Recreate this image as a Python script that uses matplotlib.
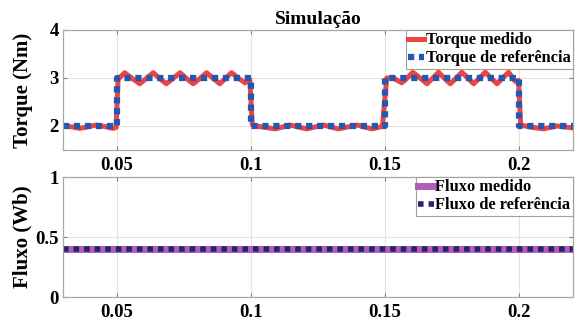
import matplotlib
matplotlib.use("Agg")
import matplotlib.pyplot as plt

# ---------------- data ----------------
t_ref = [0.03, 0.05, 0.05, 0.10, 0.10, 0.15, 0.15, 0.20, 0.20, 0.22]
torque_ref = [2, 2, 3, 3, 2, 2, 3, 3, 2, 2]

t_meas = [0.0300, 0.0335, 0.0362, 0.0390, 0.0424, 0.0455, 0.0485, 0.0498,
          0.0505, 0.0530, 0.0558, 0.0586, 0.0610, 0.0636, 0.0660, 0.0685,
          0.0710, 0.0736, 0.0760, 0.0785, 0.0810, 0.0835, 0.0860, 0.0884,
          0.0905, 0.0928, 0.0953, 0.0978, 0.0996,
          0.1005, 0.1030, 0.1090, 0.1146, 0.1208, 0.1270, 0.1325, 0.1396,
          0.1451, 0.1490,
          0.1506, 0.1530, 0.1562, 0.1583, 0.1603, 0.1630, 0.1656, 0.1678,
          0.1699, 0.1720, 0.1743, 0.1765, 0.1786, 0.1808, 0.1830, 0.1852,
          0.1873, 0.1895, 0.1917, 0.1938, 0.1960, 0.1985, 0.1997,
          0.2005, 0.2040, 0.2090, 0.2140, 0.2200]
torque_meas = [2.00, 1.98, 1.95, 1.98, 2.02, 1.99, 1.95, 1.97,
               2.97, 3.11, 2.99, 2.88, 2.99, 3.11, 2.99, 2.88,
               2.99, 3.11, 2.99, 2.88, 2.99, 3.11, 2.99, 2.88,
               2.99, 3.11, 3.00, 2.90, 2.97,
               2.03, 1.99, 1.94, 2.02, 1.94, 2.02, 1.94, 2.02,
               1.94, 1.99,
               3.00, 3.00, 2.90, 3.00, 3.12, 3.00, 2.88, 3.00,
               3.12, 3.00, 2.88, 3.00, 3.12, 3.00, 2.88, 3.00,
               3.12, 3.00, 2.88, 3.00, 3.12, 2.93, 2.95,
               2.02, 1.98, 1.94, 2.00, 1.96]

t_flux = [0.03, 0.22]
flux_meas = [0.40, 0.40]
flux_ref = [0.40, 0.40]

xticks = [0.05, 0.1, 0.15, 0.2]
xticklabels = ["0.05", "0.1", "0.15", "0.2"]
yticks_top = [2, 3, 4]
yticks_bot = [0, 0.5, 1]
yticklabels_bot = ["0", "0.5", "1"]

# ---------------- figure ----------------
plt.rcParams['font.family'] = ['Liberation Serif', 'DejaVu Serif']
plt.rcParams['font.weight'] = 'bold'

W, H = 579, 320
fig = plt.figure(figsize=(W / 100, H / 100), dpi=100)

def px_axes(l, r, t, b):
    return fig.add_axes([l / W, 1 - b / H, (r - l) / W, (b - t) / H])

ax1 = px_axes(63, 573, 30, 150)
ax2 = px_axes(63, 573, 177, 297)

red = '#f03a32'
blue = '#2257b3'
purple = '#b05cb8'
navy = '#25256b'

def style(ax):
    ax.set_xlim(0.03, 0.22)
    ax.set_xticks(xticks)
    ax.set_xticklabels(xticklabels)
    ax.grid(True, color='#e3e3e3', linewidth=0.8)
    ax.set_axisbelow(True)
    for s in ax.spines.values():
        s.set_color('#a8a8a8')
        s.set_linewidth(0.9)
    ax.tick_params(direction='in', top=True, right=True, length=3,
                   color='#808080', labelsize=13.5)
    ax.tick_params(axis='x', pad=5)
    ax.tick_params(axis='y', pad=3)
    for lab in ax.get_xticklabels() + ax.get_yticklabels():
        lab.set_fontweight('bold')

legend_kw = dict(loc='upper right', borderaxespad=0, fancybox=False,
                 framealpha=1, edgecolor='#a0a0a0', handlelength=0.95,
                 handletextpad=0.1, borderpad=0.15, labelspacing=0.12,
                 prop={'family': 'Liberation Serif', 'weight': 'bold', 'size': 11.8})

# torque
ax1.plot(t_meas, torque_meas, color=red, linewidth=3.6, alpha=0.95,
         solid_joinstyle='round', label='Torque medido')
ax1.plot(t_ref, torque_ref, color=blue, linewidth=4.5, linestyle=(0, (1.0, 0.75)),
         dash_capstyle='butt', label='Torque de referência')
ax1.set_ylim(1.5, 4)
ax1.set_yticks(yticks_top)
style(ax1)
ax1.set_ylabel('Torque (Nm)', fontsize=15, fontweight='bold')
ax1.yaxis.set_label_coords(-0.059, 0.5)
ax1.set_title('Simulação', fontsize=14, fontweight='bold', pad=4)
leg1 = ax1.legend(**legend_kw)
leg1.get_frame().set_linewidth(0.8)

# flux
ax2.plot(t_flux, flux_meas, color=purple, linewidth=5, label='Fluxo medido')
ax2.plot(t_flux, flux_ref, color=navy, linewidth=4.0, linestyle=(0, (1.0, 0.9)),
         dash_capstyle='butt', label='Fluxo de referência')
ax2.set_ylim(0, 1)
ax2.set_yticks(yticks_bot)
ax2.set_yticklabels(yticklabels_bot)
style(ax2)
ax2.set_ylabel('Fluxo (Wb)', fontsize=15, fontweight='bold')
ax2.yaxis.set_label_coords(-0.059, 0.5)
leg2 = ax2.legend(**legend_kw)
leg2.get_frame().set_linewidth(0.8)

fig.savefig('out.png', dpi=100)
